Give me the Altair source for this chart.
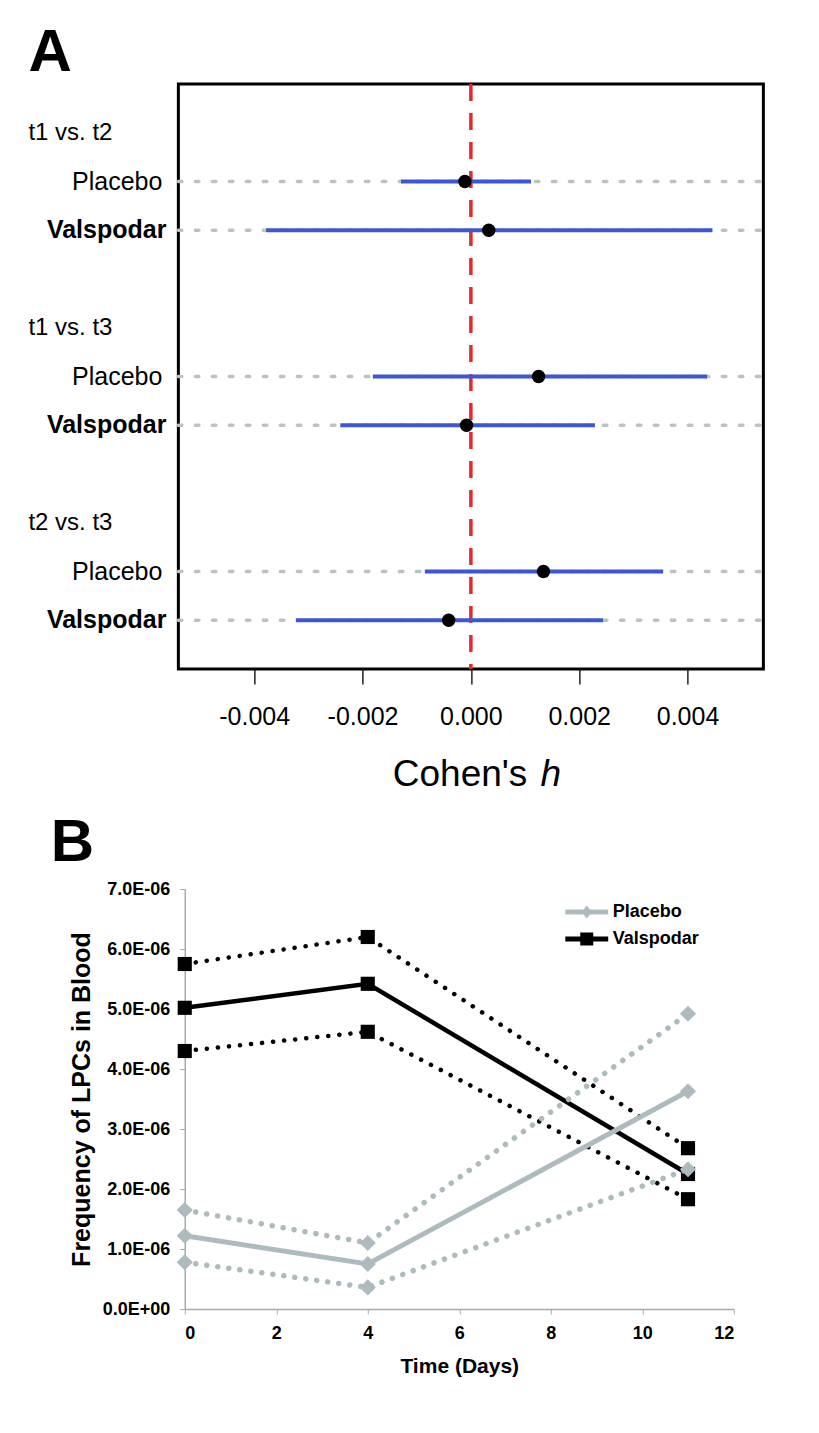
import altair as alt
import pandas as pd

FONT = "Liberation Sans"

# ---------------- Panel A data (Cohen's h forest plot) ----------------
comparisons = ["t1 vs. t2", "t1 vs. t3", "t2 vs. t3"]
groups = ["Placebo", "Valspodar"]
h_est = [-0.00011, 0.00033, 0.00125, -0.00008, 0.00134, -0.00041]
h_lo = [-0.00129, -0.00378, -0.00181, -0.00241, -0.00085, -0.00323]
h_hi = [0.00111, 0.00446, 0.00436, 0.00229, 0.00355, 0.00244]
a_ticks = [-0.004, -0.002, 0.0, 0.002, 0.004]

# ---------------- Panel B data (LPC frequency over time) ----------------
days = [0, 4, 11]
placebo_mean = [1.22e-6, 0.75e-6, 3.63e-6]
placebo_upper = [1.65e-6, 1.10e-6, 4.92e-6]
placebo_lower = [0.78e-6, 0.36e-6, 2.33e-6]
valspodar_mean = [5.02e-6, 5.42e-6, 2.25e-6]
valspodar_upper = [5.75e-6, 6.20e-6, 2.68e-6]
valspodar_lower = [4.30e-6, 4.62e-6, 1.83e-6]
b_xticks = [0, 2, 4, 6, 8, 10, 12]
b_yticks = [0, 1e-6, 2e-6, 3e-6, 4e-6, 5e-6, 6e-6, 7e-6]

GRAY = "#aebbbe"
AXGRAY = "#a3adad"

# ---------------- build tables ----------------
recA = []
for i, comp in enumerate(comparisons):
    for j, g in enumerate(groups):
        k = 2 * i + j
        recA.append({"comparison": comp, "group": g, "row": 4 * i + 1 + j,
                     "est": h_est[k], "lo": h_lo[k], "hi": h_hi[k]})
dfA = pd.DataFrame(recA)
dfHead = pd.DataFrame({"label": comparisons, "row": [4 * i for i in range(len(comparisons))]})

recB = []
for name, bands in [("Valspodar", {"mean": valspodar_mean, "upper": valspodar_upper, "lower": valspodar_lower}),
                    ("Placebo", {"mean": placebo_mean, "upper": placebo_upper, "lower": placebo_lower})]:
    for band, vals in bands.items():
        for d, v in zip(days, vals):
            recB.append({"series": name, "band": band, "day": d, "value": v})
dfB = pd.DataFrame(recB)

# ---------------- Panel A ----------------
WA, HA = 585, 585
xscaleA = alt.Scale(domain=[-0.0054, 0.0054], nice=False, zero=False)
yscaleA = alt.Scale(domain=[-1, 11], reverse=True, nice=False, zero=False)
YA = alt.Y("row:Q", scale=yscaleA, axis=None)

axisA = alt.Axis(values=a_ticks,
                 labelExpr="datum.value < 0 ? '-' + format(-datum.value, '.3f') : format(datum.value, '.3f')",
                 tickSize=15, tickWidth=1.5, tickColor="#222222",
                 labelFontSize=25, labelFont=FONT, labelColor="black", labelPadding=20,
                 domain=False, grid=False, title=None)

guides = alt.Chart(dfA).mark_rule(color="#b9c3c3", strokeWidth=3.5, strokeDash=[3.5, 13.5],
                                  strokeCap="round").encode(
    x=alt.value(0), x2=alt.value(WA), y=YA)
zero = alt.Chart(pd.DataFrame({"z": [0.0]})).mark_rule(
    color="#e8282c", strokeWidth=3.5, strokeDash=[17, 12]).encode(
    x=alt.X("z:Q", scale=xscaleA, axis=axisA, title=None))
ci = alt.Chart(dfA).mark_rule(color="#3b57d6", strokeWidth=4).encode(
    x=alt.X("lo:Q", scale=xscaleA, title=None), x2="hi:Q", y=YA)
pts = alt.Chart(dfA).mark_circle(color="black", size=180, opacity=1).encode(
    x=alt.X("est:Q", scale=xscaleA, title=None), y=YA)

heads = alt.Chart(dfHead).mark_text(align="left", baseline="middle", fontSize=24, font=FONT,
                                    color="black").encode(
    x=alt.value(-150), y=YA, text="label:N")
plac = alt.Chart(dfA).transform_filter(alt.datum.group == "Placebo").mark_text(
    align="right", baseline="middle", fontSize=25, font=FONT, color="black").encode(
    x=alt.value(-16), y=YA, text="group:N")
vals = alt.Chart(dfA).transform_filter(alt.datum.group == "Valspodar").mark_text(
    align="right", baseline="middle", fontSize=25, font=FONT, fontWeight="bold", color="black").encode(
    x=alt.value(-12), y=YA, text="group:N")

letterA = alt.Chart(pd.DataFrame({"t": ["A"]})).mark_text(
    align="left", baseline="alphabetic", fontSize=60, fontWeight="bold", font=FONT, color="black").encode(
    x=alt.value(-150), y=alt.value(-13), text="t:N")
titleA1 = alt.Chart(pd.DataFrame({"t": ["Cohen's"]})).mark_text(
    align="right", baseline="alphabetic", fontSize=37, font=FONT, color="black").encode(
    x=alt.value(349), y=alt.value(702), text="t:N")
titleA2 = alt.Chart(pd.DataFrame({"t": ["h"]})).mark_text(
    align="left", baseline="alphabetic", fontSize=37, font=FONT, fontStyle="italic", color="black").encode(
    x=alt.value(362), y=alt.value(702), text="t:N")

panelA = alt.layer(guides, zero, ci, pts, heads, plac, vals, letterA, titleA1, titleA2).properties(
    width=WA, height=HA, view=alt.ViewBackground(stroke="black", strokeWidth=3))

# ---------------- Panel B ----------------
WB, HB = 549, 420
axisBx = alt.Axis(values=b_xticks, tickSize=5, tickColor=AXGRAY, domainColor=AXGRAY, domainWidth=1.5,
                  labelFontSize=18, labelFontWeight="bold", labelFont=FONT, labelColor="black",
                  labelPadding=10, title="Time (Days)", titleFontSize=21, titleFontWeight="bold",
                  titleFont=FONT, titleColor="black", titlePadding=13, grid=False)
axisBy = alt.Axis(values=b_yticks,
                  labelExpr="datum.value == 0 ? '0.0E+00' : format(datum.value * 1000000, '.1f') + 'E-06'",
                  tickSize=5, tickColor=AXGRAY, domainColor=AXGRAY, domainWidth=1.5,
                  labelFontSize=18, labelFontWeight="bold", labelFont=FONT, labelColor="black",
                  labelPadding=10, title="Frequency of LPCs in Blood", titleFontSize=25,
                  titleFontWeight="bold", titleFont=FONT, titleColor="black", titlePadding=8, grid=False)
XB = alt.X("day:Q", scale=alt.Scale(domain=[0, 12], nice=False, zero=False), axis=axisBx)
YB = alt.Y("value:Q", scale=alt.Scale(domain=[0, 7e-6], nice=False, zero=False), axis=axisBy)


def series_layers(name, color, shape, msize, mean_w, dot_w):
    d = alt.Chart(dfB).transform_filter(alt.datum.series == name)
    band_lines = d.transform_filter(alt.datum.band != "mean").mark_line(
        color=color, strokeWidth=dot_w, strokeDash=[0.1, 11], strokeCap="round").encode(
        x=XB, y=YB, detail="band:N")
    mean_line = d.transform_filter(alt.datum.band == "mean").mark_line(
        color=color, strokeWidth=mean_w).encode(x=XB, y=YB)
    marks = d.mark_point(shape=shape, filled=True, color=color, size=msize, opacity=1).encode(x=XB, y=YB)
    return [band_lines, mean_line, marks]


DIAMOND_LEG = "M-3.3,-0.38L3.3,-0.38L3.3,0.38L-3.3,0.38Z M0,-1L0.8,0L0,1L-0.8,0Z"
SQUARE_LEG = "M-3.3,-0.38L3.3,-0.38L3.3,0.38L-3.3,0.38Z M-1,-1L1,-1L1,1L-1,1Z"
leg_spec = alt.Legend(title=None, orient="none", legendX=393, legendY=14, labelFontSize=18,
                      labelFontWeight="bold", labelFont=FONT, labelColor="black", symbolSize=169,
                      labelOffset=17, rowPadding=9, symbolStrokeWidth=0)
legend_layer = alt.Chart(dfB).transform_filter("false").mark_point(filled=True, opacity=1).encode(
    x=XB, y=YB,
    color=alt.Color("series:N", scale=alt.Scale(domain=["Placebo", "Valspodar"], range=[GRAY, "black"]),
                    legend=leg_spec),
    shape=alt.Shape("series:N", scale=alt.Scale(domain=["Placebo", "Valspodar"],
                                                range=[DIAMOND_LEG, SQUARE_LEG]),
                    legend=leg_spec))

letterB = alt.Chart(pd.DataFrame({"t": ["B"]})).mark_text(
    align="left", baseline="alphabetic", fontSize=60, fontWeight="bold", font=FONT, color="black").encode(
    x=alt.value(-134), y=alt.value(-28), text="t:N")

# invisible layout spacer on the right so that centring puts panel B where the reference has it
spacer = alt.Chart(pd.DataFrame({"s": [0]})).mark_rule(opacity=0, strokeWidth=1).encode(
    x=alt.value(WB), x2=alt.value(WB + 26), y=alt.value(HB))

layersB = (series_layers("Valspodar", "black", "square", 200, 4.5, 4.5)
           + series_layers("Placebo", GRAY, "diamond", 260, 5, 5.5))
panelB = alt.layer(*layersB, legend_layer, letterB, spacer).properties(
    width=WB, height=HB, view=alt.ViewBackground(stroke="transparent"))

chart = alt.vconcat(panelA, panelB, spacing=17, center=True).resolve_scale(
    color="independent", shape="independent"
).resolve_legend(
    color="independent", shape="independent"
).properties(
    padding={"left": 18, "top": 13, "right": 5, "bottom": 5}
).configure(font=FONT)

chart.save("out.html", embed_options={"renderer": "svg", "actions": False})
